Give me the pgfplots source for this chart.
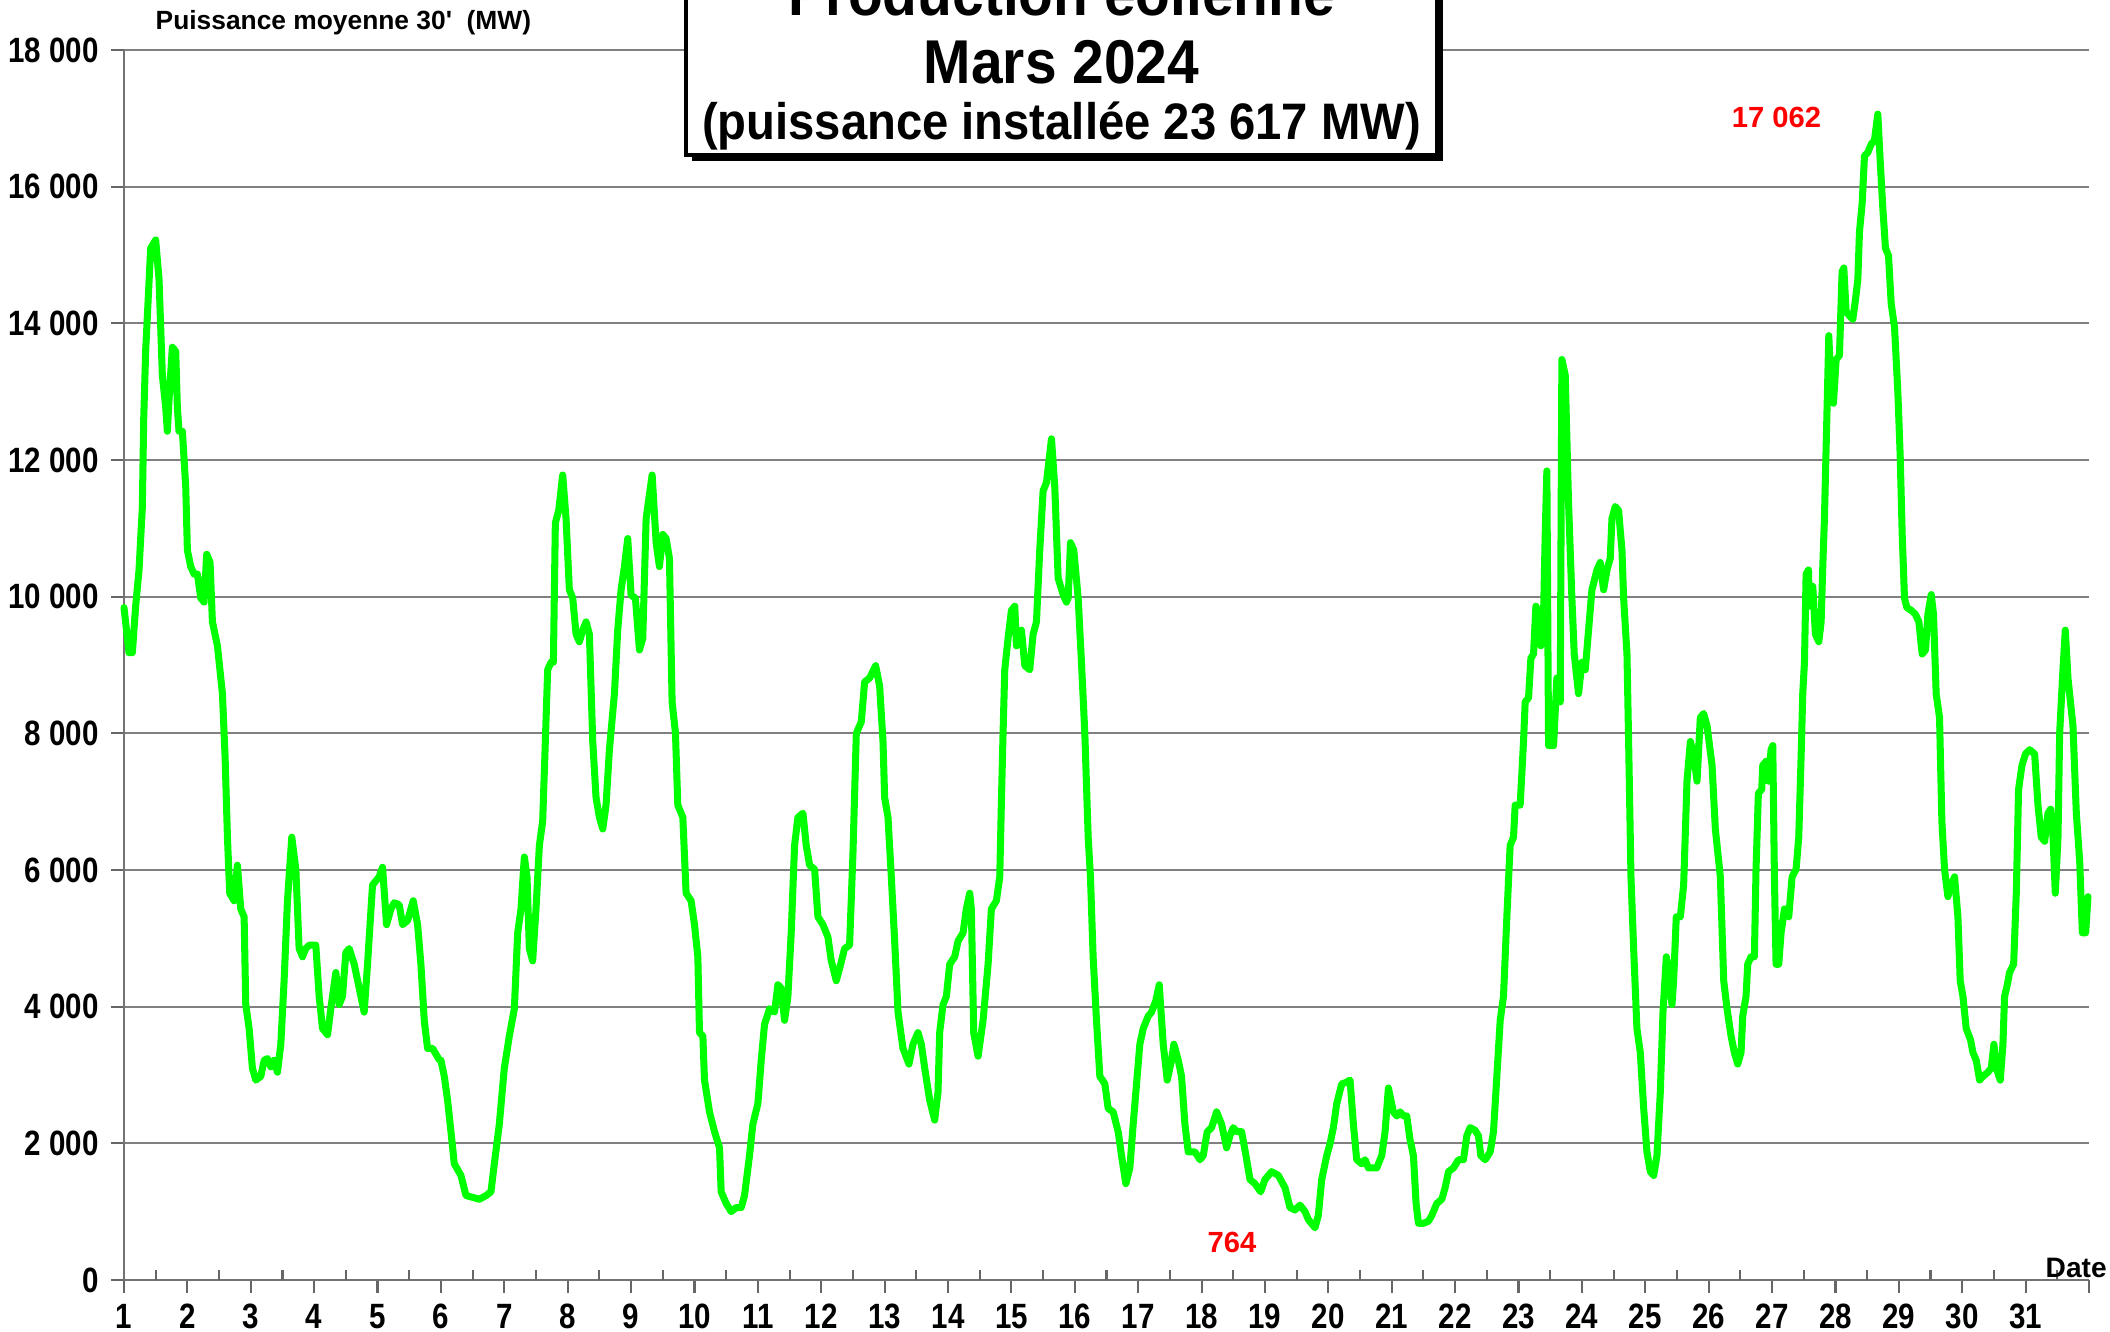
\documentclass[border=0pt]{standalone}
\usepackage{fontspec}
\setmainfont{Liberation Sans}
\newfontfamily\tickfont{Liberation Sans}[FakeStretch=0.84]
\newfontfamily\titfont{Liberation Sans}[FakeStretch=0.92]
\newfontfamily\ylabfont{Liberation Sans}[Ligatures=TeXOff]
\usepackage{pgfplots}
\pgfplotsset{compat=1.18}
\definecolor{lgreen}{RGB}{0,255,0}
\definecolor{lred}{RGB}{255,0,0}
\begin{document}
\begin{tikzpicture}
\path[use as bounding box] (-12.4mm,-5.2mm) rectangle (198.6mm,128mm);
\clip (-12.4mm,-5.2mm) rectangle (198.6mm,128mm);
\begin{axis}[
  at={(0mm,0mm)}, anchor=south west, scale only axis,
  width=196.5mm, height=123mm,
  xmin=1, xmax=32, ymin=0, ymax=18000,
  axis x line=bottom, axis y line=left,
  axis line style={-, draw=black!55, line width=0.7pt},
  every outer x axis line/.append style={-},
  every outer y axis line/.append style={-},
  scaled y ticks=false, scaled x ticks=false,
  xtick={1,2,...,32},
  xticklabels={1,2,3,4,5,6,7,8,9,10,11,12,13,14,15,16,17,18,19,20,21,22,23,24,25,26,27,28,29,30,31,{}},
  extra x ticks={1.5,2.5,...,31.5},
  extra x tick labels={},
  extra x tick style={tick align=inside, major tick length=1mm},
  tick align=outside,
  major tick length=1.3mm,
  tick style={draw=black!60, line width=0.6pt},
  ytick={0,2000,...,18000},
  yticklabels={0,2 000,4 000,6 000,8 000,10 000,12 000,14 000,16 000,18 000},
  ymajorgrids,
  grid style={draw=black!50, line width=0.6pt},
  ticklabel style={font=\tickfont\fontsize{10}{11}\selectfont\bfseries},
  xticklabel style={anchor=base, yshift=-3.55mm},
  yticklabel style={anchor=east, inner sep=0pt, xshift=-1.15mm},
  clip=false,
]
\addplot[color=lgreen, line width=2pt, line join=round, line cap=round] coordinates {
(1.000,9840)(1.079,9180)(1.132,9180)(1.184,9860)(1.237,10390)(1.289,11300)(1.311,12600)(1.342,13600)(1.384,14400)(1.421,15100)(1.500,15220)(1.553,14640)(1.605,13240)(1.658,12770)(1.684,12420)(1.711,12890)(1.763,13650)(1.816,13590)(1.842,12770)(1.868,12420)(1.921,12420)(1.974,11610)(2.000,10680)(2.053,10440)(2.105,10330)(2.158,10330)(2.211,9980)(2.263,9920)(2.305,10620)(2.358,10500)(2.395,9630)(2.474,9280)(2.553,8580)(2.595,7650)(2.632,6480)(2.668,5660)(2.737,5550)(2.789,6070)(2.842,5430)(2.895,5315)(2.921,4030)(2.974,3680)(3.026,3100)(3.079,2925)(3.158,2980)(3.211,3215)(3.263,3240)(3.316,3120)(3.368,3215)(3.421,3040)(3.474,3450)(3.526,4380)(3.579,5550)(3.647,6480)(3.711,6010)(3.763,4850)(3.816,4730)(3.868,4850)(3.921,4900)(4.026,4900)(4.079,4150)(4.132,3680)(4.211,3590)(4.263,3970)(4.342,4500)(4.395,4030)(4.447,4150)(4.500,4790)(4.553,4850)(4.632,4620)(4.711,4270)(4.789,3920)(4.842,4620)(4.921,5780)(5.026,5900)(5.079,6040)(5.142,5200)(5.211,5430)(5.263,5520)(5.342,5490)(5.395,5200)(5.474,5260)(5.526,5430)(5.563,5550)(5.632,5200)(5.684,4620)(5.737,3800)(5.789,3390)(5.868,3390)(5.974,3220)
(6.000,3215)(6.053,2980)(6.105,2630)(6.158,2170)(6.211,1700)(6.316,1530)(6.395,1235)(6.500,1210)(6.605,1180)(6.711,1235)(6.789,1290)(6.842,1700)(6.921,2280)(7.000,3100)(7.079,3570)(7.158,3970)(7.211,5080)(7.263,5430)(7.316,6190)(7.358,5900)(7.395,4850)(7.447,4670)(7.500,5430)(7.553,6360)(7.605,6710)(7.647,7880)(7.684,8930)(7.737,9040)(7.774,9040)(7.805,11080)(7.858,11260)(7.921,11780)(7.974,11140)(8.026,10100)(8.079,9980)(8.132,9450)(8.184,9340)(8.237,9510)(8.289,9630)(8.342,9450)(8.395,7880)(8.447,7060)(8.500,6770)(8.553,6600)(8.605,6950)(8.658,7760)(8.737,8580)(8.789,9510)(8.842,10100)(8.895,10440)(8.947,10850)(9.000,10020)(9.068,9980)(9.132,9220)(9.184,9390)(9.237,11140)(9.332,11780)(9.395,10790)(9.447,10440)(9.500,10910)(9.553,10850)(9.605,10560)(9.647,8460)(9.700,8000)(9.737,6950)(9.816,6770)(9.868,5660)(9.947,5550)(10.000,5200)(10.053,4730)(10.079,3620)(10.132,3570)(10.158,2925)(10.237,2460)(10.316,2170)(10.395,1935)(10.421,1290)(10.500,1120)(10.579,1000)(10.658,1060)(10.737,1060)(10.789,1235)(10.868,1820)(10.921,2280)(11.000,2580)(11.053,3215)(11.105,3740)(11.184,3970)
(11.263,3920)(11.316,4320)(11.368,4270)(11.421,3800)(11.474,4150)(11.526,5080)(11.579,6360)(11.632,6770)(11.711,6830)(11.763,6360)(11.816,6070)(11.895,6010)(11.947,5315)(12.026,5200)(12.105,5020)(12.158,4670)(12.237,4380)(12.289,4560)(12.368,4850)(12.447,4900)(12.500,6240)(12.553,8000)(12.632,8170)(12.684,8750)(12.763,8810)(12.858,8990)(12.921,8690)(12.974,7880)(13.000,7060)(13.053,6770)(13.105,5900)(13.158,4960)(13.211,3920)(13.289,3390)(13.384,3160)(13.447,3450)(13.526,3620)(13.579,3450)(13.632,3100)(13.711,2630)(13.789,2340)(13.842,2750)(13.868,3620)(13.921,4030)(13.974,4150)(14.026,4620)(14.105,4730)(14.158,4960)(14.237,5080)(14.289,5430)(14.342,5660)(14.368,5430)(14.405,3620)(14.474,3275)(14.553,3800)(14.632,4620)(14.684,5430)(14.763,5550)(14.816,5900)(14.842,7000)(14.868,8000)(14.895,8930)(14.947,9390)(15.000,9800)(15.053,9860)(15.079,9280)(15.158,9510)(15.211,8990)(15.289,8930)(15.342,9450)(15.395,9630)(15.447,10680)(15.500,11550)(15.553,11670)(15.632,12310)(15.684,11610)(15.737,10270)(15.816,10030)(15.868,9920)(15.895,9980)(15.932,10790)(15.984,10680)
(16.053,9980)(16.105,9040)(16.158,8000)(16.211,6480)(16.247,5900)(16.289,4730)(16.342,3800)(16.395,2980)(16.474,2870)(16.526,2510)(16.605,2460)(16.684,2170)(16.737,1820)(16.805,1410)(16.868,1640)(16.921,2280)(16.974,2870)(17.026,3450)(17.079,3680)(17.158,3860)(17.211,3920)(17.279,4090)(17.332,4320)(17.395,3450)(17.458,2925)(17.526,3215)(17.563,3450)(17.632,3215)(17.684,2980)(17.737,2280)(17.789,1875)(17.895,1875)(17.974,1760)(18.026,1820)(18.089,2170)(18.158,2230)(18.237,2460)(18.316,2280)(18.395,1935)(18.447,2110)(18.500,2230)(18.553,2170)(18.632,2170)(18.700,1820)(18.763,1470)(18.842,1410)(18.932,1290)(19.000,1470)(19.105,1585)(19.211,1530)(19.316,1350)(19.395,1060)(19.474,1025)(19.553,1095)(19.632,1000)(19.684,885)(19.789,764)(19.842,945)(19.895,1470)(19.974,1820)(20.026,1990)(20.079,2230)(20.132,2580)(20.211,2870)(20.279,2890)(20.342,2925)(20.395,2280)(20.447,1760)(20.526,1700)(20.579,1760)(20.632,1640)(20.763,1640)(20.842,1820)(20.895,2170)(20.947,2810)
(21.026,2460)(21.079,2400)(21.132,2460)(21.184,2400)(21.237,2400)(21.289,2050)(21.342,1820)(21.384,1120)(21.421,830)(21.500,830)(21.579,860)(21.632,945)(21.711,1120)(21.789,1180)(21.842,1350)(21.895,1585)(21.974,1640)(22.053,1760)(22.132,1760)(22.184,2110)(22.237,2230)(22.316,2190)(22.368,2110)(22.405,1820)(22.474,1760)(22.553,1875)(22.605,2170)(22.658,2980)(22.711,3800)(22.763,4150)(22.816,5315)(22.868,6360)(22.921,6480)(22.947,6950)(23.026,6950)(23.079,7880)(23.105,8460)(23.158,8520)(23.195,9100)(23.237,9160)(23.274,9860)(23.316,9740)(23.353,9280)(23.395,9740)(23.421,10910)(23.447,11840)(23.474,7820)(23.553,7820)(23.605,8810)(23.658,8460)(23.684,13470)(23.737,13240)(23.789,11380)(23.842,9980)(23.879,9160)(23.947,8580)(24.000,9040)(24.053,8930)(24.105,9510)(24.158,10100)(24.237,10390)(24.289,10500)(24.342,10100)(24.395,10390)(24.447,10560)(24.474,11140)(24.526,11320)(24.579,11260)(24.632,10680)(24.658,9980)(24.711,9160)(24.737,7880)(24.774,5900)(24.816,4850)(24.868,3680)(24.921,3330)(24.974,2520)(25.026,1875)(25.079,1585)(25.132,1530)(25.184,1820)(25.237,2750)(25.279,3920)(25.332,4730)(25.368,4500)(25.421,4030)(25.447,4380)(25.489,5315)(25.553,5315)(25.605,5780)(25.658,7300)(25.711,7880)(25.763,7700)(25.816,7300)(25.868,8230)(25.921,8290)(25.974,8110)(26.053,7530)(26.105,6600)(26.184,5900)(26.237,4380)(26.289,3970)
(26.353,3570)(26.405,3330)(26.458,3160)(26.511,3330)(26.537,3860)(26.589,4150)(26.616,4620)(26.668,4730)(26.721,4730)(26.747,6010)(26.784,7120)(26.837,7180)(26.853,7530)(26.905,7590)(26.942,7300)(26.984,7760)(27.011,7820)(27.037,5900)(27.063,4620)(27.105,4620)(27.142,5080)(27.195,5430)(27.263,5315)(27.316,5900)(27.379,6010)(27.421,6480)(27.458,7650)(27.484,8580)(27.511,9040)(27.537,10330)(27.574,10390)(27.589,9860)(27.642,10150)(27.684,9450)(27.737,9340)(27.774,9630)(27.800,10440)(27.826,11140)(27.853,12190)(27.895,13820)(27.932,13000)(27.968,12830)(28.011,13470)(28.063,13530)(28.105,14760)(28.132,14810)(28.168,14170)(28.221,14110)(28.274,14060)(28.316,14350)(28.353,14640)(28.379,15340)(28.421,15750)(28.458,16450)(28.511,16500)(28.563,16620)(28.616,16680)(28.668,17062)(28.705,16390)(28.747,15690)(28.789,15100)(28.837,14990)(28.879,14290)(28.932,13940)(28.984,13000)(29.021,12070)(29.053,10910)(29.089,9980)(29.126,9840)(29.195,9800)(29.263,9740)(29.316,9630)(29.368,9160)(29.421,9220)(29.458,9740)(29.511,10030)(29.547,9740)(29.589,8580)(29.642,8230)(29.679,6710)(29.721,6010)(29.774,5610)(29.826,5780)(29.879,5900)(29.932,5315)(29.968,4380)(30.011,4150)(30.063,3680)(30.132,3510)(30.168,3330)(30.221,3215)(30.274,2925)(30.326,2980)(30.405,3040)(30.458,3100)(30.500,3450)(30.537,3100)(30.600,2925)(30.642,3450)(30.668,4150)(30.711,4320)(30.747,4500)(30.811,4620)(30.853,5660)(30.889,7180)(30.942,7530)(31.000,7700)(31.063,7760)(31.142,7700)(31.195,6950)(31.247,6480)(31.300,6420)(31.353,6830)(31.395,6890)(31.432,6480)(31.468,5660)(31.511,6480)(31.537,8000)(31.589,8930)(31.626,9510)(31.668,8810)(31.747,8110)(31.800,6830)(31.853,6130)(31.895,5080)(31.947,5080)(31.984,5610)
};
\node[anchor=base, text=lred, font=\fontsize{8.3}{9}\selectfont\bfseries] at (axis cs:27.07,16860) {17 062};
\node[anchor=base, text=lred, font=\fontsize{8.3}{9}\selectfont\bfseries] at (axis cs:18.48,395) {764};
\end{axis}
\node[anchor=base west, inner sep=0pt, font=\ylabfont\fontsize{7.5}{9}\selectfont\bfseries] at (3.1mm,125mm) {Puissance moyenne 30'\ \ (MW)};
\node[anchor=base west, inner sep=0pt, font=\fontsize{8}{9}\selectfont\bfseries] at (192.1mm,0.2mm) {Date};
\fill[black] (56.8mm,111.9mm) rectangle (131.9mm,135mm);
\draw[line width=1.1pt, fill=white] (56.2mm,112.5mm) rectangle (131.3mm,135mm);
\node[anchor=base, inner sep=0pt, font=\titfont\fontsize{17.6}{19}\selectfont\bfseries] at (93.75mm,126.4mm) {Production éolienne};
\node[anchor=base, inner sep=0pt, font=\titfont\fontsize{17.6}{19}\selectfont\bfseries] at (93.75mm,119.6mm) {Mars 2024};
\node[anchor=base, inner sep=0pt, font=\titfont\fontsize{14.6}{16}\selectfont\bfseries] at (93.75mm,114.0mm) {(puissance installée 23 617 MW)};
\end{tikzpicture}
\end{document}
